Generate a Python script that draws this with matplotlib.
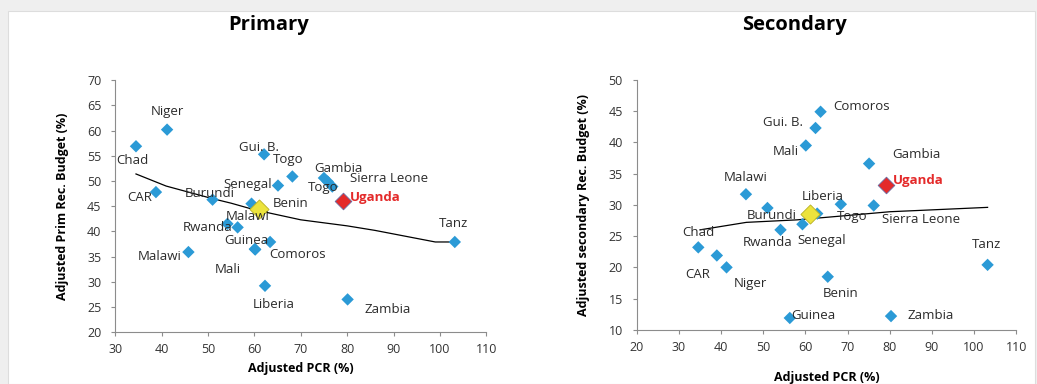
import matplotlib
matplotlib.use("Agg")
import matplotlib.pyplot as plt
from matplotlib.patches import Rectangle

# ---------------- data ----------------
# Primary: adjusted PCR (%) vs adjusted primary recurrent budget share (%)
prim_names = ["Chad", "Niger", "CAR", "Burundi", "Malawi", "Rwanda", "Malawi",
              "Benin", "Gui. B.", "Togo", "Senegal", "Gambia", "Togo",
              "Sierra Leone", "Guinea", "Comoros", "Mali", "Liberia", "Zambia", "Tanz"]
prim_pcr = [34.5, 41.2, 38.8, 51.0, 45.8, 54.2, 56.4,
            59.4, 62.1, 68.2, 65.1, 75.0, 75.8,
            76.8, 63.4, 60.1, 60.2, 62.3, 80.1, 103.2]
prim_budget = [56.9, 60.2, 47.8, 46.3, 35.9, 41.5, 40.8,
               45.5, 55.3, 50.9, 49.1, 50.6, 49.9,
               48.9, 37.9, 36.5, 36.4, 29.2, 26.5, 37.9]
prim_uganda = (79.1, 46.0)
prim_avg = (61.0, 44.5)
prim_trend_x = [34.5, 41.0, 51.0, 55.0, 60.0, 70.0, 80.0, 86.0, 99.0, 103.2]
prim_trend_y = [51.4, 49.0, 46.5, 45.6, 44.3, 42.3, 41.1, 40.2, 37.9, 37.9]

# Secondary: adjusted PCR (%) vs adjusted secondary recurrent budget share (%)
sec_names = ["Chad", "CAR", "Niger", "Malawi", "Burundi", "Rwanda", "Senegal",
             "Liberia", "Togo", "Sierra Leone", "Gambia", "Mali", "Gui. B.",
             "Comoros", "Tanz", "Benin", "Guinea", "Zambia"]
sec_pcr = [34.6, 39.0, 41.3, 45.9, 51.0, 54.1, 59.3,
           62.8, 68.4, 76.2, 75.1, 60.1, 62.4,
           63.6, 103.2, 65.3, 56.3, 80.3]
sec_budget = [23.2, 21.9, 20.0, 31.7, 29.5, 26.0, 26.9,
              28.6, 30.1, 29.9, 36.6, 39.5, 42.3,
              44.9, 20.4, 18.5, 11.9, 12.2]
sec_uganda = (79.2, 33.2)
sec_avg = (61.1, 28.5)
sec_trend_x = [35.0, 46.0, 58.0, 70.0, 80.0, 90.0, 103.2]
sec_trend_y = [26.0, 27.2, 27.6, 28.3, 28.9, 29.2, 29.6]

# ---------------- label placement (pixel offsets from each marker) ----------------
prim_offsets = [(-4, -14), (0, 18), (-16, -5), (-3, 6), (-29, -4), (-20, -4), (10, 11),
                (39, 0), (-5, 7), (-4, 17), (-30, 1), (15, 9), (-4, -6),
                (57, 8), (-24, 1), (43, -5), (-28, -20), (9, -19), (40, -10), (-1, 18)]
sec_offsets = [(0, 15), (-19, -19), (24, -16), (0, 17), (4, -8), (-13, -13), (19, -16),
               (6, 17), (11, -12), (47, -14), (47, 9), (-20, -6), (-33, 5),
               (41, 5), (-1, 20), (13, -17), (24, 2), (40, 1)]

# ---------------- styling ----------------
plt.rcParams["font.family"] = ["Open Sans", "DejaVu Sans"]

BLUE = "#2b9ad6"
RED = "#e42a2a"
YELLOW = "#ece33c"
LABEL = "#2b2b2b"

fig = plt.figure(figsize=(10.37, 3.84), dpi=100)
fig.patch.set_facecolor("#efefef")
fig.add_artist(Rectangle((0.008, 0.0), 0.99, 0.972, transform=fig.transFigure,
                         facecolor="white", edgecolor="#dddddd", lw=0.8, zorder=-10))

ax1 = fig.add_axes([0.111, 0.135, 0.358, 0.656])
ax2 = fig.add_axes([0.614, 0.141, 0.366, 0.651])


def draw_panel(ax, names, xs, ys, offsets, uganda, avg, tx, ty,
               xlim, ylim, yticks, ylabel, xlabelpad):
    ax.set_facecolor("none")
    ax.plot(tx, ty, color="black", lw=0.9, zorder=2)
    ax.scatter(xs, ys, marker="D", s=40, color=BLUE, edgecolors="none", zorder=3)
    ax.scatter([avg[0]], [avg[1]], marker="D", s=95, color=YELLOW,
               edgecolors="#b8b020", linewidths=0.6, zorder=4)
    ax.scatter([uganda[0]], [uganda[1]], marker="D", s=72, color=RED,
               edgecolors="#6a6aa0", linewidths=0.6, zorder=4)
    for name, x, y, off in zip(names, xs, ys, offsets):
        ax.annotate(name, (x, y), xytext=off, textcoords="offset pixels",
                    ha="center", va="center", fontsize=9.5, color=LABEL, zorder=5)
    ax.annotate("Uganda", uganda, xytext=(32, 4), textcoords="offset pixels",
                ha="center", va="center", fontsize=9.5, color=RED,
                fontweight="bold", zorder=5)
    ax.set_xlim(*xlim)
    ax.set_ylim(*ylim)
    ax.set_xticks(range(xlim[0], xlim[1] + 1, 10))
    ax.set_yticks(yticks)
    for s in ("top", "right"):
        ax.spines[s].set_visible(False)
    for s in ("left", "bottom"):
        ax.spines[s].set_color("#8c8c8c")
        ax.spines[s].set_linewidth(0.8)
    ax.tick_params(direction="out", length=3, width=0.8, color="#8c8c8c",
                   labelsize=9, labelcolor="#333333")
    ax.tick_params(axis="y", pad=7)
    ax.tick_params(axis="x", pad=5)
    ax.set_xlabel("Adjusted PCR (%)", fontsize=9, fontweight="bold", labelpad=xlabelpad)
    ax.set_ylabel(ylabel, fontsize=9, fontweight="bold", labelpad=13)


draw_panel(ax1, prim_names, prim_pcr, prim_budget, prim_offsets, prim_uganda, prim_avg,
           prim_trend_x, prim_trend_y, (30, 110), (20, 70), range(20, 71, 5),
           "Adjusted Prim Rec. Budget (%)", 4)
draw_panel(ax2, sec_names, sec_pcr, sec_budget, sec_offsets, sec_uganda, sec_avg,
           sec_trend_x, sec_trend_y, (20, 110), (10, 50), range(10, 51, 5),
           "Adjusted secondary Rec. Budget (%)", 12)

# Panel titles
fig.text(269 / 1037, 1 - 25 / 384, "Primary", fontsize=14.5, fontweight="bold",
         ha="center", va="center")
fig.text(794 / 1037, 1 - 25 / 384, "Secondary", fontsize=14.5, fontweight="bold",
         ha="center", va="center")

fig.savefig("out.png", dpi=100, facecolor=fig.get_facecolor())
